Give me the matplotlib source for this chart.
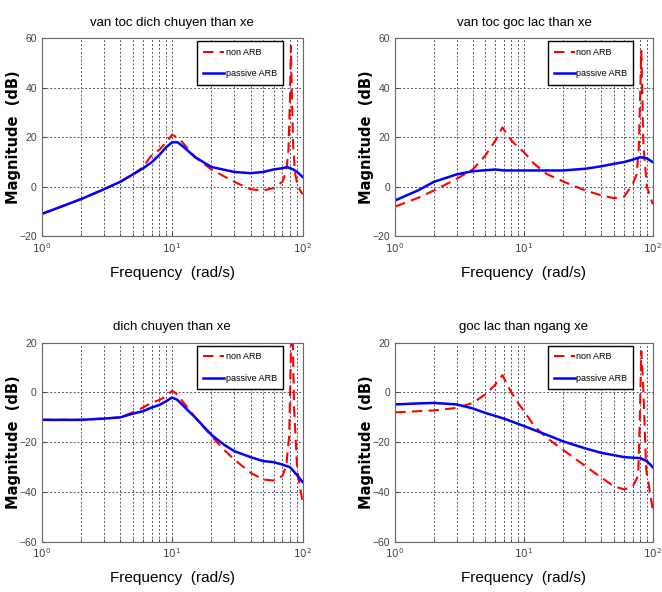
import matplotlib.pyplot as plt

# ---- data ----
# van toc dich chuyen than xe
w_b1 = [1, 1.5, 2, 3, 4, 5, 6, 7, 8, 9, 10, 11, 12, 15, 20, 30, 40, 50, 60, 70, 76, 85, 91, 100]
mag_b1 = [-11, -7.5, -5, -1, 2, 5, 7.5, 10, 13, 16, 18, 18, 16.5, 12, 8, 6, 5.5, 6, 7, 7.5, 8, 7, 6, 4]
w_r1 = [1, 1.5, 2, 3, 4, 5, 6, 7, 8, 9, 10, 11, 12, 15, 20, 30, 40, 50, 60, 70, 75, 78, 80, 81.5, 83, 85, 88, 92, 100]
mag_r1 = [-11, -7.5, -5, -1, 2, 5, 8, 13, 15, 18, 21, 20, 18, 12, 7, 2, -1, -1.5, -0.5, 2, 6, 15, 35, 57, 35, 15, 5, 0, -3]

# van toc goc lac than xe
w_b2 = [1, 1.5, 2, 3, 4, 6, 7, 10, 15, 20, 30, 40, 50, 60, 70, 80, 90, 100]
mag_b2 = [-5.5, -1.5, 2, 5, 6.3, 7, 6.6, 6.6, 6.6, 6.6, 7.3, 8.3, 9.3, 10, 11, 12, 11.5, 10]
w_r2 = [1, 1.5, 2, 3, 4, 5, 6, 6.8, 8, 9, 10, 12, 15, 20, 30, 40, 50, 60, 70, 75, 78, 81.5, 84.6, 90, 100]
mag_r2 = [-8, -4.5, -1.5, 3.2, 7, 12.6, 18.7, 24, 18.7, 16, 14, 9.3, 5.2, 2.2, -1.5, -3.5, -4.6, -4, 1.2, 5, 16, 55, 17, 0, -7]

# dich chuyen than xe
w_b3 = [1, 2, 3, 4, 5, 6, 7, 8, 9, 10, 11, 12, 15, 20, 25, 30, 40, 50, 60, 70, 80, 90, 100]
mag_b3 = [-11, -11, -10.5, -10, -8.5, -7.5, -6, -5, -3.5, -2, -3, -5, -10, -17, -21, -23.6, -26, -27.6, -28, -29, -30, -33, -36]
w_r3 = [1, 2, 3, 4, 5, 6, 7, 8, 9, 10, 11, 12, 15, 20, 25, 30, 40, 50, 60, 70, 75, 79, 81, 83, 86, 91, 100]
mag_r3 = [-11, -11, -10.5, -10, -8, -6, -4, -3, -1.5, 0.7, -0.8, -3.5, -10, -17.5, -23, -27, -32.3, -35, -35.4, -33.6, -29.6, -17.5, 10, 40, -5.5, -31, -44]

# goc lac than ngang xe
w_b4 = [1, 1.5, 2, 3, 4, 5, 7, 10, 15, 20, 30, 40, 50, 60, 80, 90, 100]
mag_b4 = [-4.8, -4.4, -4.2, -4.8, -6.4, -8.2, -10.5, -13.5, -17, -19.6, -22.5, -24.3, -25.2, -26, -26.4, -27.6, -30]
w_r4 = [1, 2, 3, 4, 5, 6, 6.8, 8, 9, 10, 12, 15, 20, 30, 40, 50, 60, 70, 77, 79, 81.5, 84, 89, 100]
mag_r4 = [-8, -7.2, -6.2, -4.2, -0.8, 3.2, 7, -0.1, -4.2, -7.5, -13.5, -18.2, -23, -29.6, -34.3, -37.7, -39, -37.7, -33.6, -15, 16.6, 5, -31, -47]

titles = ['van toc dich chuyen than xe', 'van toc goc lac than xe',
          'dich chuyen than xe', 'goc lac than ngang xe']
ylims = [(-20, 60), (-20, 60), (-60, 20), (-60, 20)]
yticks = [[-20, 0, 20, 40, 60], [-20, 0, 20, 40, 60],
          [-60, -40, -20, 0, 20], [-60, -40, -20, 0, 20]]
curves = [(w_r1, mag_r1, w_b1, mag_b1), (w_r2, mag_r2, w_b2, mag_b2),
          (w_r3, mag_r3, w_b3, mag_b3), (w_r4, mag_r4, w_b4, mag_b4)]

narrow = ['Liberation Sans', 'DejaVu Sans']

fig = plt.figure(figsize=(6.62, 5.92), dpi=100)
pos = [[0.063, 0.601, 0.394, 0.334], [0.597, 0.601, 0.389, 0.334],
       [0.063, 0.085, 0.394, 0.336], [0.597, 0.085, 0.389, 0.336]]

for k in range(4):
    ax = fig.add_axes(pos[k])
    wr, mr, wb, mb = curves[k]
    ax.semilogx(wr, mr, '--', color='#ff0000', lw=1.5, dashes=(5, 3), label='non ARB')
    ax.semilogx(wb, mb, '-', color='#0000ff', lw=1.8, label='passive ARB')
    ax.set_xlim(1, 100)
    ax.set_ylim(*ylims[k])
    ax.set_yticks(yticks[k])
    ax.grid(True, which='major', axis='both', linestyle=(0, (2, 2)), color='#555566', lw=0.7)
    ax.grid(True, which='minor', axis='x', linestyle=(0, (2, 2)), color='#555566', lw=0.7)
    ax.tick_params(which='both', direction='in', labelsize=7.5, colors='#444444',
                   labelcolor='#444444', length=3)
    ax.tick_params(which='minor', length=2)
    for lab in ax.get_yticklabels():
        lab.set_family(narrow)
    for s in ax.spines.values():
        s.set_color('#666666')
        s.set_linewidth(0.8)
    ax.set_title(titles[k], fontsize=9.5, family=narrow, pad=9)
    ax.set_xlabel('Frequency  (rad/s)', fontsize=11, family=narrow, labelpad=8)
    ax.set_ylabel('Magnitude  (dB)', fontsize=10.5, fontweight='bold', family='DejaVu Sans', labelpad=-1)
    leg = ax.legend(loc='upper right', bbox_to_anchor=(0.925, 0.985),
                    prop={'family': narrow, 'size': 6.5}, fancybox=False, framealpha=1,
                    edgecolor='black', handlelength=2.3, labelspacing=1.4,
                    borderpad=0.7, handletextpad=0.15, borderaxespad=0)
    leg.get_frame().set_linewidth(1.0)

fig.savefig('out.png', dpi=100)
